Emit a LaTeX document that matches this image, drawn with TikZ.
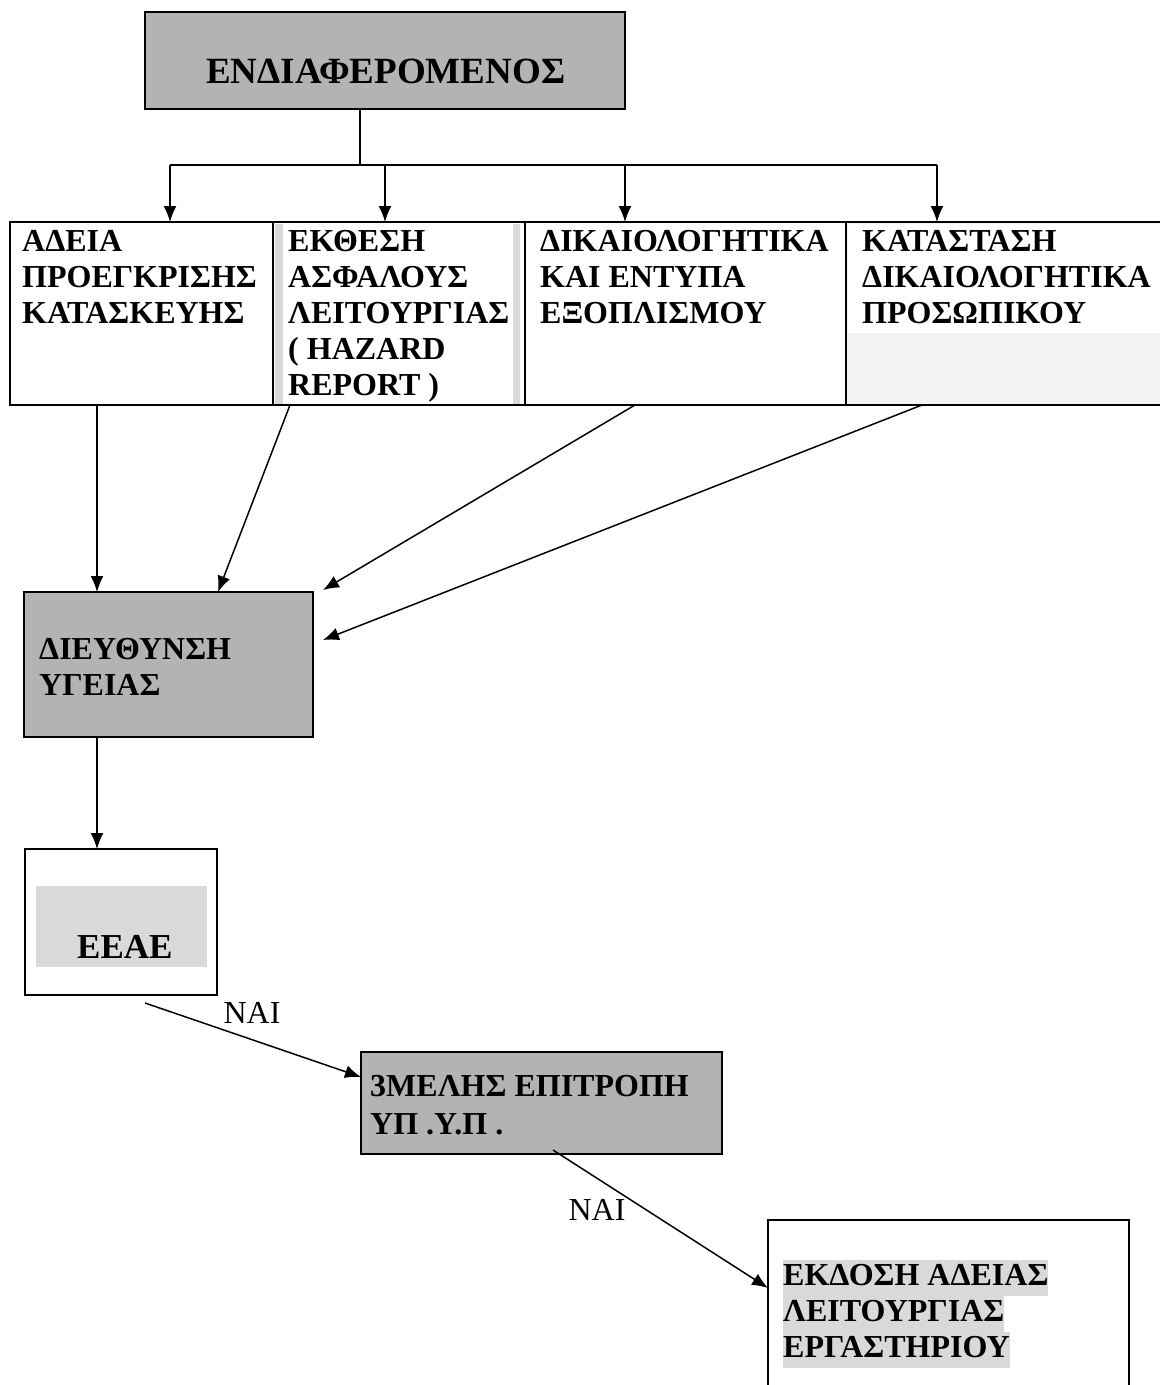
\documentclass[tikz,border=0pt]{standalone}
\usepackage{fontspec}
\setmainfont{Liberation Serif}
\usetikzlibrary{arrows.meta}
\definecolor{boxgray}{HTML}{B3B3B3}
\definecolor{hlgray}{HTML}{D9D9D9}
\definecolor{palegray}{HTML}{F2F2F2}
\newcommand{\hlline}[1]{{\setlength{\fboxsep}{0pt}\colorbox{hlgray}{\strut#1}}}
\begin{document}
\begin{tikzpicture}[x=1pt, y=-1pt,
  box/.style={draw, line width=2.5pt, inner sep=0pt, outer sep=0pt, anchor=north west},
  rowbox/.style={draw, line width=2pt, inner sep=0pt, outer sep=0pt, anchor=north west, minimum height=183pt},
  txt/.style={font=\fontsize{32}{36}\selectfont\bfseries, align=left, inner sep=0pt, anchor=north west},
  lbl/.style={font=\fontsize{32}{36}\selectfont, inner sep=0pt},
  arr/.style={-{Latex[length=16pt,width=13pt]}, line width=1.5pt}]
\useasboundingbox (0,0) rectangle (1160,1385);

% Top box
\node[box, fill=boxgray, minimum width=480pt, minimum height=97pt] (endiaf) at (145,12) {};
\node[txt, font=\fontsize{37}{40}\selectfont\bfseries] (endiaftxt) at (206,59) {ΕΝΔΙΑΦΕΡΟΜΕΝΟΣ};

% Shading inside the row
\fill[hlgray] (275,224) rectangle (283,404);
\fill[hlgray] (513,224) rectangle (520,404);
\fill[palegray] (847,223) rectangle (1160,404);
\fill[white] (848,224) rectangle (1160,333);

% Row of documents
\node[rowbox, minimum width=263pt] (adeia) at (10,222) {};
\node[rowbox, minimum width=252pt] (ekthesi) at (273,222) {};
\node[rowbox, minimum width=321pt] (dikaiol) at (525,222) {};
\node[inner sep=0pt, outer sep=0pt, anchor=north west, minimum width=314pt, minimum height=183pt] (katastasi) at (846,222) {};
\draw[line width=2pt] (katastasi.north west) -- (katastasi.north east)
  (katastasi.south west) -- (katastasi.south east);

\node[txt] (adeiatxt) at (22,230) {ΑΔΕΙΑ\\ΠΡΟΕΓΚΡΙΣΗΣ\\ΚΑΤΑΣΚΕΥΗΣ};
\node[txt] (ekthesitxt) at (288,230) {ΕΚΘΕΣΗ\\ΑΣΦΑΛΟΥΣ\\ΛΕΙΤΟΥΡΓΙΑΣ\\( HAZARD\\REPORT )};
\node[txt] (dikaioltxt) at (540,230) {ΔΙΚΑΙΟΛΟΓΗΤΙΚΑ\\ΚΑΙ ΕΝΤΥΠΑ\\ΕΞΟΠΛΙΣΜΟΥ};
\node[txt] (katastxt) at (862,230) {ΚΑΤΑΣΤΑΣΗ\\ΔΙΚΑΙΟΛΟΓΗΤΙΚΑ\\ΠΡΟΣΩΠΙΚΟΥ};

% Split from the top box
\coordinate (bus) at (0,165);
\draw[line width=1.5pt] ([xshift=-25pt]endiaf.south) -- ([xshift=-25pt]endiaf.south |- bus);
\draw[line width=1.5pt] ([xshift=160pt]adeia.north west |- bus) -- ([xshift=91pt]katastasi.north west |- bus);
\draw[arr] ([xshift=160pt]adeia.north west |- bus) -- ([xshift=160pt]adeia.north west);
\draw[arr] ([xshift=112pt]ekthesi.north west |- bus) -- ([xshift=112pt]ekthesi.north west);
\draw[arr] ([xshift=100pt]dikaiol.north west |- bus) -- ([xshift=100pt]dikaiol.north west);
\draw[arr] ([xshift=91pt]katastasi.north west |- bus) -- ([xshift=91pt]katastasi.north west);

% Health directorate
\node[box, fill=boxgray, minimum width=289pt, minimum height=145pt] (dieft) at (24,592) {};
\draw[gray!60, line width=0.5pt] (38,703) -- (300,703);
\node[txt] (dieftxt) at (39,638) {ΔΙΕΥΘΥΝΣΗ\\ΥΓΕΙΑΣ};

\draw[arr] ([xshift=87pt]adeia.south west) -- ([xshift=87pt]adeia.south west |- dieft.north);
\draw[arr] ([xshift=17pt]ekthesi.south west) -- ([xshift=194pt]dieft.north west);
\draw[arr] ([xshift=110pt]dikaiol.south west) -- ([xshift=10pt,yshift=2pt]dieft.north east);
\draw[arr] ([xshift=76pt]katastasi.south west) -- ([xshift=10pt,yshift=-48pt]dieft.north east);

% EEAE
\node[box, minimum width=192pt, minimum height=146pt] (eeae) at (25,849) {};
\fill[hlgray] (36,886) rectangle (207,967);
\node[txt, font=\fontsize{35}{40}\selectfont\bfseries] (eeaetxt) at (77,935) {ΕΕΑΕ};
\draw[arr] ([xshift=73pt]dieft.south west) -- ([xshift=73pt]dieft.south west |- eeae.north);

% Committee
\node[box, fill=boxgray, minimum width=361pt, minimum height=102pt] (trimelis) at (361,1052) {};
\node[txt, font=\fontsize{32}{38}\selectfont\bfseries] (trimelistxt) at (370,1075) {3ΜΕΛΗΣ ΕΠΙΤΡΟΠΗ\\ΥΠ .Υ.Π .};
\draw[arr] ([xshift=120pt,yshift=-8pt]eeae.south west) -- ([yshift=-25pt]trimelis.north west);
\node[lbl] (nai1) at (252,1013) {ΝΑΙ};

% Licence
\node[box, minimum width=361pt, minimum height=200pt] (adeialeit) at (768,1220) {};
\node[txt] (adeialeittxt) at (783,1260) {\hlline{ΕΚΔΟΣΗ ΑΔΕΙΑΣ}\\\hlline{ΛΕΙΤΟΥΡΓΙΑΣ}\\\hlline{ΕΡΓΑΣΤΗΡΙΟΥ}};
\draw[arr] ([xshift=192pt,yshift=4pt]trimelis.south west) -- ([yshift=-68pt]adeialeit.north west);
\node[lbl] (nai2) at (597,1210) {ΝΑΙ};
\end{tikzpicture}
\end{document}
